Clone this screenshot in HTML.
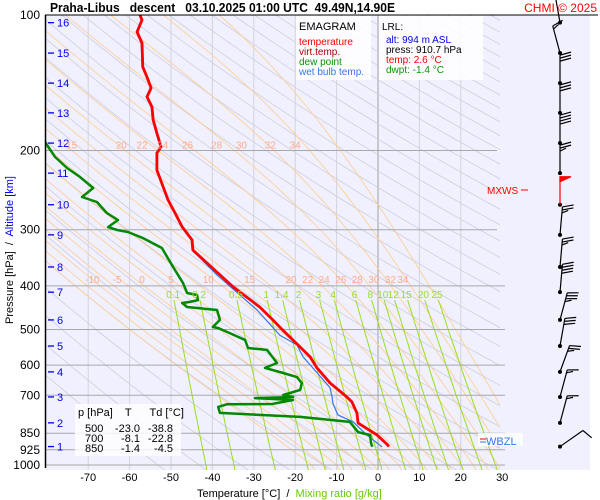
<!DOCTYPE html>
<html><head><meta charset="utf-8"><style>
html,body{margin:0;padding:0;background:#fff;}
svg{display:block;font-family:"Liberation Sans",sans-serif;}
</style></head><body>
<svg id="c" width="600" height="500" viewBox="0 0 600 500" xmlns="http://www.w3.org/2000/svg">
<defs><clipPath id="pc"><rect x="45" y="15" width="455" height="455"/></clipPath></defs>
<rect x="45" y="15" width="545" height="455" fill="#f0f0fe"/>
<g id="grid" clip-path="url(#pc)"></g>
<g id="adia" clip-path="url(#pc)"></g>
<g id="hgrid"></g>
<g id="series" clip-path="url(#pc)"></g>
<g id="labels"></g>
<g id="barbs"></g>
<line x1="45" y1="15" x2="598" y2="15" stroke="#000" stroke-width="1"/>
<line x1="45.5" y1="15" x2="45.5" y2="468" stroke="#000" stroke-width="1.5"/>
<text x="50" y="12" font-size="13" font-weight="bold" xml:space="preserve" textLength="345" lengthAdjust="spacingAndGlyphs">Praha-Libus   descent   03.10.2025 01:00 UTC  49.49N,14.90E</text>
<text x="597" y="12" font-size="12" fill="#ff0000" text-anchor="end">CHMI © 2025</text>
<g>
<rect x="296" y="16" width="75" height="64" fill="#fff" opacity="0.85"/>
<text x="299" y="30" font-size="11">EMAGRAM</text>
<text x="299" y="45" font-size="10" fill="#ff0000">temperature</text>
<text x="299" y="55" font-size="10" fill="#aa0000">virt.temp.</text>
<text x="299" y="65" font-size="10" fill="#009900">dew point</text>
<text x="299" y="75" font-size="10" fill="#3377ee">wet bulb temp.</text>
</g>
<g>
<rect x="379" y="16" width="104" height="64" fill="#fff" opacity="0.85"/>
<text x="382" y="30" font-size="10">LRL:</text>
<text x="386" y="43" font-size="10" fill="#0000ee">alt: 994 m ASL</text>
<text x="386" y="53" font-size="10">press: 910.7 hPa</text>
<text x="386" y="63" font-size="10" fill="#ff0000">temp: 2.6 °C</text>
<text x="386" y="73" font-size="10" fill="#009900">dwpt: -1.4 °C</text>
</g>
<g font-size="11">
<rect x="75" y="404" width="106" height="52" fill="#fff" opacity="0.8"/>
<text x="78" y="416" xml:space="preserve">p [hPa]    T      Td [°C]</text>
<text x="85" y="432">500</text><text x="140" y="432" text-anchor="end">-23.0</text><text x="173" y="432" text-anchor="end">-38.8</text>
<text x="85" y="442">700</text><text x="140" y="442" text-anchor="end">-8.1</text><text x="173" y="442" text-anchor="end">-22.8</text>
<text x="85" y="452">850</text><text x="140" y="452" text-anchor="end">-1.4</text><text x="173" y="452" text-anchor="end">-4.5</text>
</g>
<g>
<rect x="478" y="433" width="45" height="13" fill="#fff" opacity="0.8"/>
<line x1="480" y1="439" x2="486" y2="439" stroke="#ff0000"/><line x1="480" y1="442" x2="486" y2="442" stroke="#3377ee"/>
<text x="486" y="445" font-size="11" fill="#3377ee">WBZL</text>
</g>
<g>
<text x="487" y="194" font-size="10" fill="#ff0000">MXWS</text>
<line x1="521" y1="190" x2="528" y2="190" stroke="#ff0000"/>
</g>
<text x="197" y="497" font-size="11" xml:space="preserve">Temperature [°C]  /  <tspan fill="#66cc00">Mixing ratio [g/kg]</tspan></text>
<text transform="translate(13,250) rotate(-90)" font-size="11" text-anchor="middle" xml:space="preserve">Pressure [hPa]  /  <tspan fill="#0000ee">Altitude [km]</tspan></text>
</svg>
<script>
// ---- data ----
const tempP = [100,102.6,109.1,115.4,130.5,137.3,145.3,152,160.1,171.1,183,196.5,202.6,221,240.7,257.7,275.6,295.7,316.2,333,402,446,476,494,547,575,609,657,706,724,766,807,858,903,910.7];
const tempT = [-57.5,-57.0,-58.2,-57.0,-56.8,-55.8,-54.8,-55.8,-54.6,-54.3,-53.4,-52.4,-53.4,-53.4,-51.9,-50.7,-49.0,-47.3,-44.9,-44.7,-35.0,-28.5,-25.4,-23.7,-18.8,-16.4,-14.7,-11.6,-7.5,-6.3,-5.1,-4.8,-0.2,2.4,2.6];
const dewP = [191.6,206.8,218.8,229,242.3,248.6,253.8,260.4,275.4,285.5,296,300.5,303.5,313,329.5,363,394,414.8,419,430,434,436.5,445.6,452.5,476,493.6,496,527.6,549.5,555,593.4,608.6,624.6,637.7,657.5,681,699,706,710,717,732,733,743,766,782,802,845,858,893,910.7];
const dewT = [-80.4,-78.0,-75.1,-72.0,-68.8,-70.3,-71.5,-67.9,-65.5,-62.8,-65.2,-63.0,-60.4,-56.8,-52.2,-49.5,-47.1,-46.1,-43.7,-43.5,-45.4,-47.3,-46.1,-38.9,-38.2,-39.9,-38.6,-32.1,-31.4,-26.8,-24.4,-27.3,-22.9,-19.6,-18.4,-18.8,-22.9,-20.5,-29.7,-20.5,-25.6,-36.5,-38.6,-38.2,-18.8,-6.8,-4.8,-1.9,-1.7,-1.4];
const wbP = [100,102.6,109.1,115.4,130.5,137.3,145.3,152,160.1,171.1,183,196.5,202.6,221,240.7,257.7,275.6,295.7,316.2,333,378,452.5,515,541,575,609,673,706,729,774,802,858,911];
const wbT = [-57.7,-57.2,-58.4,-57.2,-57.0,-56.0,-55.0,-56.0,-54.8,-54.5,-53.6,-52.6,-53.6,-53.6,-52.1,-50.9,-49.2,-47.5,-45.1,-44.9,-38.9,-29.2,-23.7,-19.6,-18.1,-15.7,-11.6,-11.1,-10.9,-9.7,-6.0,-2.7,1.0];
const tempTicks = [-70,-60,-50,-40,-30,-20,-10,0,10,20,30];
const pressTicks = [100,200,300,400,500,600,700,850,925,1000];
const altLabels = [16,15,14,13,12,11,10,9,8,7,6,5,4,3,2,1];
const altP = [104,121.5,141.7,165,192.6,224.6,264,308,363,413,476,544,621,706,806,910];
const windDir = [350,345,0,0,0,0,0,5,5,5,15,10,20,15,15,55];
const windKt = [15,15,30,30,40,25,50,25,25,40,35,30,25,15,15,10];
const mixRatios = [0.1,0.2,0.5,1,1.4,2,3,4,6,8,10,12,15,20,25];
const mixLabelTxt = ["0.1","0.2","0.5","1","1.4","2","3","4","6","8","10","12","15","20","25"];
const moistTop = ["15","20","22","24","26","28","30","32","34"];
const moistTopT = [-74,-62,-57,-52,-46,-39,-33,-26,-20];
const moistMid = ["-10","-5","0","5","10","15","20","22","24","26","28","30","32","34"];
const moistMidT = [-69,-63,-57,-50,-41,-31,-21,-17,-13,-9,-5,-1,3,6];

// ---- axes ----
const NS="http://www.w3.org/2000/svg";
const X = t => 378 + t*4.14;
const Y = p => 15 + 450*Math.log10(p/100);
function el(tag, attrs, parent, txt){const e=document.createElementNS(NS,tag);for(const k in attrs)e.setAttribute(k,attrs[k]);if(txt!==undefined)e.textContent=txt;parent.appendChild(e);return e;}
const G = id => document.getElementById(id);
const pathOf = (ps,ts) => ps.map((p,i)=>(i?'L':'M')+X(ts[i]).toFixed(1)+','+Y(p).toFixed(1)).join('');

tempTicks.forEach(t=>{
  const l=el('line',{x1:X(t),y1:15,x2:X(t),y2:470,stroke:t===0?'#a0a0a0':'#d4d4dc','stroke-width':1},G('grid'));
  
  
  const tx=el('text',{x:X(t),y:481,'font-size':11,'text-anchor':'middle'},G('labels'),String(t));
  
  
});
pressTicks.forEach(p=>{
  const l=el('line',{x1:45,y1:Y(p),x2:p<=300?497:505,y2:Y(p),stroke:'#a8a8a8','stroke-width':1},G('hgrid'));
  
  
  const tx=el('text',{x:40,y:Y(p)+4,'font-size':12,'text-anchor':'end'},G('labels'),String(p));
  
  
});
altLabels.forEach((a,i)=>{
  const y=Y(altP[i]);
  el('line',{x1:48,y1:y,x2:54,y2:y,stroke:'#0000ee','stroke-width':1.3},G('labels'));
  const tx=el('text',{x:57,y:y+4,'font-size':11,fill:'#0000ee'},G('labels'),String(a));
  
  
});
for(let th=220; th<=580; th+=10){
  const ps=[],ts=[];
  for(let p=100;p<=1030;p+=15){ps.push(p);ts.push(th*Math.pow(p/1000,0.286)-273.15);}
  const l=el('path',{d:pathOf(ps,ts),fill:'none',stroke:'#cfcfdb','stroke-width':0.8},G('adia'));
  
  
}
function es(tc){return 6.112*Math.exp(17.67*tc/(tc+243.5));}
for(let tw=-16; tw<=40; tw+=3){
  const ps=[],ts=[]; let T=tw+273.15, lnp=Math.log(1000);
  const Rd=287,cp=1005,Lv=2.5e6,eps=0.622;
  ps.push(1000);ts.push(tw);
  while(Math.exp(lnp)>100){
    const p=Math.exp(lnp), e=es(T-273.15), rs=eps*e/(p-e);
    const dT=(Rd*T+Lv*rs)/(cp+Lv*Lv*rs*eps/(Rd*T*T));
    const h=-0.02; T+=dT*h; lnp+=h;
    ps.push(Math.exp(lnp)); ts.push(T-273.15);
  }
  ps.unshift(1030); ts.unshift(tw+0.8);
  const l=el('path',{d:pathOf(ps,ts),fill:'none',stroke:'#ffcc90','stroke-width':0.8},G('adia'));
  
  
}
function tdFrom(w,p){const e=w*p/(622+w);const a=Math.log(e/6.112);return 243.5*a/(17.67-a);}
mixRatios.forEach((w,i)=>{
  const ps=[],ts=[];
  for(let p=430;p<=1030;p+=20){ps.push(p);ts.push(tdFrom(w,p));}
  const l=el('path',{d:pathOf(ps,ts),fill:'none',stroke:'#99dd22','stroke-width':1},G('adia'));
  
  
  const tx=el('text',{x:X(tdFrom(w,420)),y:298,'font-size':10,fill:'#99dd22','text-anchor':'middle'},G('labels'),mixLabelTxt[i]);
  
  
});
moistTop.forEach((s,i)=>{
  const tx=el('text',{x:X(moistTopT[i]),y:Y(200)-2,'font-size':10,fill:'#ffaa88','text-anchor':'middle'},G('labels'),s);
  
  
});
moistMid.forEach((s,i)=>{
  const tx=el('text',{x:X(moistMidT[i]),y:283,'font-size':10,fill:'#ffaa88','text-anchor':'middle'},G('labels'),s);
  
  
});
const wb=el('path',{d:pathOf(wbP,wbT),fill:'none',stroke:'#3377ee','stroke-width':1.2},G('series'));


const dw=el('path',{d:pathOf(dewP,dewT),fill:'none',stroke:'#008800','stroke-width':2.5,'stroke-linejoin':'round'},G('series'));


const tl=el('path',{d:pathOf(tempP,tempT),fill:'none',stroke:'#ff0000','stroke-width':2.8,'stroke-linejoin':'round'},G('series'));


altP.forEach((p,i)=>{
  const x0=560,y0=Y(p),d=windDir[i]*Math.PI/180,L=28;
  const ux=Math.sin(d),uy=-Math.cos(d);
  const col=(i===6)?'#ff0000':'#000';
  const g=el('g',{stroke:col,'stroke-width':1.2,fill:col},G('barbs'));
  
  
  el('circle',{cx:x0,cy:y0,r:2,stroke:'none',fill:'#000'},g);
  const tx=x0+ux*L, ty=y0+uy*L;
  el('line',{x1:x0,y1:y0,x2:tx,y2:ty},g);
  const px=-uy, py=ux;
  let s=windKt[i], pos=0;
  const bx=(k,len)=>{const sx=tx-ux*k,sy=ty-uy*k;el('line',{x1:sx,y1:sy,x2:sx+px*len+ux*3,y2:sy+py*len+uy*3},g);};
  while(s>=50){const sx=tx-ux*pos,sy=ty-uy*pos;el('polygon',{points:`${sx},${sy} ${sx+px*11},${sy+py*11} ${sx-ux*5},${sy-uy*5}`},g);pos+=6;s-=50;}
  while(s>=10){bx(pos,11);pos+=3;s-=10;}
  if(s>=5){bx(pos,6);}
});
</script>
</body></html>
